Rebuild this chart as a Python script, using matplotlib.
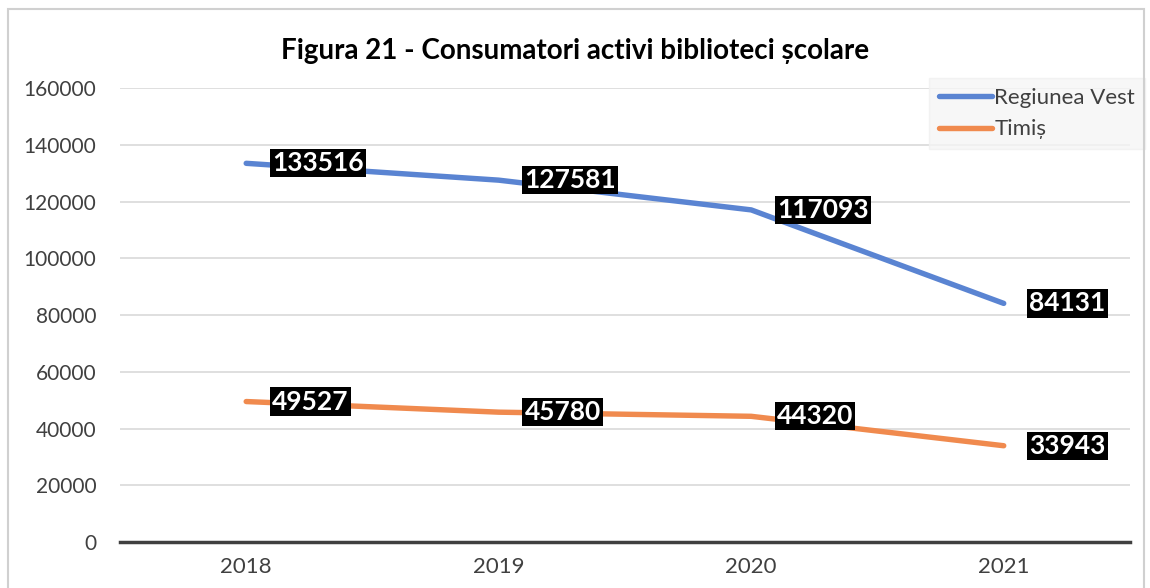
import matplotlib.pyplot as plt
from matplotlib.patches import Rectangle

years = ["2018", "2019", "2020", "2021"]
vest = [133516, 127581, 117093, 84131]
timis = [49527, 45780, 44320, 33943]
yticks = [0, 20000, 40000, 60000, 80000, 100000, 120000, 140000, 160000]

plt.rcParams['font.family'] = ['Lato', 'DejaVu Sans']

fig = plt.figure(figsize=(11.5, 5.88), dpi=100)
ax = fig.add_axes([0.1043, 0.0782, 0.8783, 0.7718])

# chart border
fig.patches.append(Rectangle((8 / 1150, -0.05), 1136 / 1150, 1 - 9 / 588 + 0.05,
                             transform=fig.transFigure, fill=False,
                             edgecolor='#d0d0d0', linewidth=1.5))

x = range(len(years))
ax.plot(x, vest, color='#5A84D2', linewidth=3.9, solid_capstyle='round', label='Regiunea Vest', zorder=3)
ax.plot(x, timis, color='#F08A4E', linewidth=3.9, solid_capstyle='round', label='Timiș', zorder=3)

for series in (vest, timis):
    for i, v in enumerate(series):
        ax.annotate(str(v), (i, v), xytext=(18.5, 0), textcoords='offset points',
                    ha='left', va='center', color='white', fontsize=19, fontweight='bold',
                    bbox=dict(boxstyle='square,pad=0.08', facecolor='black', edgecolor='none'),
                    zorder=5)

ax.set_xlim(-0.5, 3.5)
ax.set_ylim(0, 160000)
ax.set_yticks(yticks)
ax.set_yticklabels([str(t) for t in yticks])
ax.set_xticks(list(x))
ax.set_xticklabels(years)
ax.tick_params(length=0, labelsize=15, labelcolor='#404040')
ax.tick_params(axis='y', pad=17)
ax.tick_params(axis='x', labelsize=16, pad=11)
ax.grid(axis='y', color='#d9d9d9', linewidth=1.2)
ax.set_axisbelow(True)
for s in ['top', 'right', 'left']:
    ax.spines[s].set_visible(False)
ax.spines['bottom'].set_color('#404040')
ax.spines['bottom'].set_linewidth(2.5)

fig.text(0.5, 0.913, 'Figura 21 - Consumatori activi biblioteci școlare',
         ha='center', va='center', fontsize=20, fontweight='bold', color='black')

leg = ax.legend(loc='upper right', bbox_to_anchor=(1.0149, 1.022), fontsize=16,
                frameon=True, fancybox=False, handlelength=2.4, handletextpad=0.1,
                borderpad=0.45, labelspacing=0.5, borderaxespad=0)
leg.get_frame().set_facecolor('#f5f5f5')
leg.get_frame().set_edgecolor('#f0f0f0')
for t in leg.get_texts():
    t.set_color('#404040')

fig.savefig('out.png', dpi=100)
